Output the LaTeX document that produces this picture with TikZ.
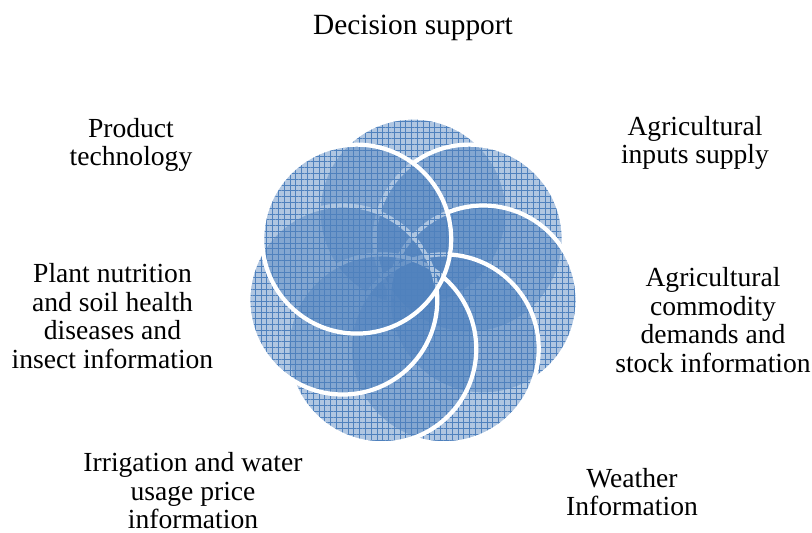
\documentclass[tikz,border=0pt]{standalone}
\usepackage{fontspec}
\setmainfont{Liberation Serif}
\definecolor{petalblue}{RGB}{79, 129, 189}
\usepackage{tikz}
\usetikzlibrary{shapes, patterns.meta, positioning, calc}

\begin{document}
\begin{tikzpicture}[
  petal/.style={circle, minimum size=3.78cm, inner sep=0pt, draw=white, line width=2.4pt,
    preaction={fill=petalblue, fill opacity=0.45},
    preaction={pattern={Hatch[distance=3.3pt, line width=0.5pt]}, pattern color=petalblue, fill opacity=0.65}},
  lbl/.style={align=center, inner sep=0pt, font=\fontsize{15.7}{16.2}\selectfont}
]
  \useasboundingbox (-8.26,-5.02) rectangle (7.98,5.64);

  % seven overlapping circles, clockwise from the top
  \foreach \ang [count=\i] in {90, 38.57, -12.86, -64.29, -115.71, -167.14, -218.57} {
    \node[petal] (c\i) at ($(0,-0.04)+(\ang:1.44)$) {};
  }

  \node[lbl, font=\fontsize{16.7}{17}\selectfont] (decision) at (0, 5.08) {Decision support};
  \node[lbl] (inputs) at (5.64, 2.78) {Agricultural\\inputs supply};
  \node[lbl] (commodity) at (6.0, -0.76) {Agricultural\\commodity\\demands and\\stock information};
  \node[lbl] (weather) at (4.38, -4.2) {Weather\\Information};
  \node[lbl] (irrigation) at (-4.4, -4.18) {Irrigation and water\\usage price\\information};
  \node[lbl] (plant) at (-6.01, -0.68) {Plant nutrition\\and soil health\\diseases and\\insect information};
  \node[lbl] (product) at (-5.64, 2.74) {Product\\technology};
\end{tikzpicture}
\end{document}
